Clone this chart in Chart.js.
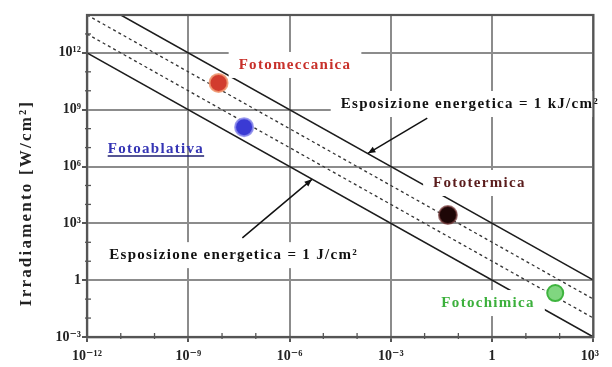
<!DOCTYPE html>
<html><head><meta charset="utf-8">
<script src="https://cdn.jsdelivr.net/npm/chart.js@4.4.1/dist/chart.umd.min.js"></script>
<style>html,body{margin:0;padding:0;background:#fff}#wrap{width:612px;height:367px;position:relative}</style>
</head><body><div id="wrap"><canvas id="c" width="612" height="367"></canvas></div>
<script>
// ---- data ----
const processNames = ['Fotomeccanica', 'Fotoablativa', 'Fototermica', 'Fotochimica'];
const exposureTime = [7.9e-9, 4.5e-8, 4.9e-2, 74];      // s
const irradiance = [2.6e10, 1.2e8, 2.75e3, 0.21];        // W/cm²
const processFill = ['#d23c2e', '#3a3ad4', '#1e0707', '#80d680'];
const processEdge = ['rgba(240,150,110,0.85)', 'rgba(140,140,235,0.85)', 'rgba(120,60,60,0.7)', '#3fb43f'];

const lineNames = ['1 J/cm²', '10 J/cm²', '100 J/cm²', '1 kJ/cm²'];
const lineTimes = [[1e-12, 1e3], [1e-12, 1e3], [1e-12, 1e3], [1e-12, 1e3]];
const lineIrradiance = [[1e12, 1e-3], [1e13, 1e-2], [1e14, 1e-1], [1e15, 1]];
const lineDashed = [false, true, true, false];

const xTickValues = [1e-12, 1e-9, 1e-6, 1e-3, 1, 1e3];
const xTickLabels = ['10⁻¹²', '10⁻⁹', '10⁻⁶', '10⁻³', '1', '10³\u2007'];
const yTickValues = [1e-3, 1, 1e3, 1e6, 1e9, 1e12];
const yTickLabels = ['10⁻³', '1', '10³', '10⁶', '10⁹', '10¹²'];
const yTitle = 'Irradiamento [W/cm²]';

const noteTexts = ['Fotomeccanica', 'Fotoablativa', 'Fototermica', 'Fotochimica',
  'Esposizione energetica = 1 kJ/cm²', 'Esposizione energetica = 1 J/cm²'];
const noteX = [1.45e-6, 1.1e-10, 0.42, 0.76, 0.22, 2.2e-8];
const noteY = [2.3e11, 8.4e6, 1.35e5, 0.062, 2.0e9, 21];
const noteColors = ['#c8302a', '#3434b4', '#5a1c1c', '#3cb03c', '#111', '#111'];
const noteBoxed = [true, false, true, true, true, true];

const arrowFromX = [0.012, 4.0e-8];
const arrowFromY = [3.6e8, 170];
const arrowToX = [2.1e-4, 4.6e-6];
const arrowToY = [5.0e6, 2.1e5];

// ---- chart ----
const FONT = "'Liberation Serif','DejaVu Serif',serif";
const datasets = [];
processNames.forEach((n, i) => datasets.push({
  label: n, data: [{x: exposureTime[i], y: irradiance[i]}],
  backgroundColor: processFill[i], borderColor: processEdge[i], borderWidth: 2,
  pointRadius: i === 3 ? 8 : 9, order: 0
}));
lineNames.forEach((n, i) => datasets.push({
  label: n, data: lineTimes[i].map((t, k) => ({x: t, y: lineIrradiance[i][k]})),
  showLine: true, pointRadius: 0, borderColor: lineDashed[i] ? '#333' : '#1c1c1c',
  borderWidth: lineDashed[i] ? 1.3 : 1.6, borderDash: lineDashed[i] ? [3, 3] : [],
  clip: 0, order: 1
}));

function setFont(ctx, size, spacing) {
  ctx.font = 'bold ' + size + 'px ' + FONT;
  ctx.letterSpacing = spacing + 'px';
}

const decor = {
  id: 'decor',
  afterDatasetDraw(chart, args) {
    if (args.index !== 4) return;
    const {ctx, scales: {x, y}} = chart;
    ctx.save();
    setFont(ctx, 15, 1.3);
    noteTexts.forEach((t, i) => {
      if (!noteBoxed[i]) return;
      const w = ctx.measureText(t).width;
      const cx = x.getPixelForValue(noteX[i]), cy = y.getPixelForValue(noteY[i]);
      ctx.fillStyle = '#fff';
      ctx.fillRect(cx - w / 2 - 10, cy - 13, w + 20, 26);
    });
    ctx.restore();
  },
  afterDatasetsDraw(chart) {
    const {ctx, chartArea: a, scales: {x, y}} = chart;
    ctx.save();
    // annotation texts
    setFont(ctx, 15, 1.3);
    ctx.textAlign = 'center';
    ctx.textBaseline = 'middle';
    noteTexts.forEach((t, i) => {
      const cx = x.getPixelForValue(noteX[i]), cy = y.getPixelForValue(noteY[i]);
      ctx.fillStyle = noteColors[i];
      ctx.fillText(t, cx, cy);
      if (i === 1) {
        const w = ctx.measureText(t).width;
        ctx.strokeStyle = '#1c1c70';
        ctx.lineWidth = 1.5;
        ctx.beginPath();
        ctx.moveTo(cx - w / 2, cy + 7);
        ctx.lineTo(cx + w / 2, cy + 7);
        ctx.stroke();
      }
    });
    // arrows
    ctx.strokeStyle = '#111';
    ctx.fillStyle = '#111';
    ctx.lineWidth = 1.5;
    arrowFromX.forEach((_, i) => {
      const x0 = x.getPixelForValue(arrowFromX[i]), y0 = y.getPixelForValue(arrowFromY[i]);
      const x1 = x.getPixelForValue(arrowToX[i]), y1 = y.getPixelForValue(arrowToY[i]);
      const ang = Math.atan2(y1 - y0, x1 - x0);
      ctx.beginPath(); ctx.moveTo(x0, y0); ctx.lineTo(x1, y1); ctx.stroke();
      ctx.beginPath();
      ctx.moveTo(x1, y1);
      ctx.lineTo(x1 - 8 * Math.cos(ang - 0.4), y1 - 8 * Math.sin(ang - 0.4));
      ctx.lineTo(x1 - 8 * Math.cos(ang + 0.4), y1 - 8 * Math.sin(ang + 0.4));
      ctx.closePath(); ctx.fill();
    });
    // minor ticks (every decade)
    ctx.strokeStyle = '#555';
    ctx.lineWidth = 1.3;
    for (let e = -11; e < 3; e++) {
      if (e % 3 === 0) continue;
      const px = x.getPixelForValue(Math.pow(10, e));
      ctx.beginPath(); ctx.moveTo(px, a.bottom + 2); ctx.lineTo(px, a.bottom - 4); ctx.stroke();
    }
    for (let e = -2; e < 14; e++) {
      if (e % 3 === 0) continue;
      const py = y.getPixelForValue(Math.pow(10, e));
      ctx.beginPath(); ctx.moveTo(a.left - 2, py); ctx.lineTo(a.left + 4, py); ctx.stroke();
    }
    // frame
    ctx.strokeStyle = '#555';
    ctx.lineWidth = 2.2;
    ctx.strokeRect(a.left, a.top, a.right - a.left, a.bottom - a.top);
    // y title
    setFont(ctx, 17, 2.2);
    ctx.fillStyle = '#222';
    ctx.translate(27, 203);
    ctx.rotate(-Math.PI / 2);
    ctx.fillText(yTitle, 0, 0);
    ctx.restore();
  }
};

new Chart(document.getElementById('c'), {
  type: 'scatter',
  data: {datasets},
  options: {
    responsive: false, animation: false,
    layout: {padding: {left: 0, right: 6, top: 15, bottom: 0}},
    plugins: {legend: {display: false}, tooltip: {enabled: false}},
    scales: {
      x: {
        type: 'logarithmic', min: 1e-12, max: 1e3,
        afterBuildTicks: s => { s.ticks = xTickValues.map(v => ({value: v})); },
        afterFit: s => { s.height = 30; },
        ticks: {callback: (v, i) => xTickLabels[i], autoSkip: false, maxRotation: 0,
          padding: 6, color: '#222', font: {family: FONT, size: 14, weight: 'bold'}},
        grid: {color: '#8c8c8c', lineWidth: 2, tickLength: 5, tickColor: '#555'},
        border: {color: '#555', width: 2.2}
      },
      y: {
        type: 'logarithmic', min: 1e-3, max: 1e14,
        afterBuildTicks: s => { s.ticks = yTickValues.map(v => ({value: v})); },
        afterFit: s => { s.width = 87; },
        ticks: {callback: (v, i) => yTickLabels[i], autoSkip: false,
          padding: 1, color: '#222', font: {family: FONT, size: 14, weight: 'bold'}},
        grid: {color: '#8c8c8c', lineWidth: 2, tickLength: 5, tickColor: '#555'},
        border: {color: '#555', width: 2.2}
      }
    }
  },
  plugins: [decor]
});
</script></body></html>
